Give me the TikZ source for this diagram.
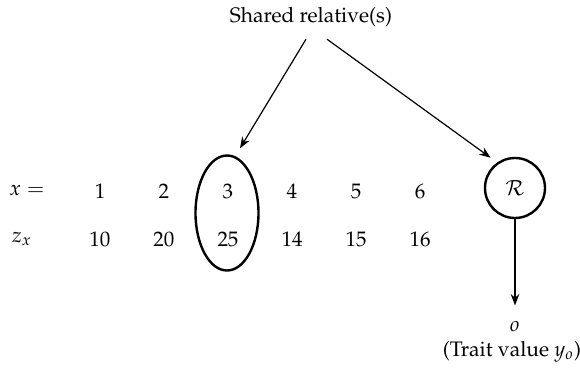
\documentclass[tikz,border=0pt]{standalone}
\usepackage[T1]{fontenc}
\usepackage{mathpazo}
\usepackage{tikz}
\usetikzlibrary{shapes.geometric,arrows.meta,positioning}

\begin{document}
\begin{tikzpicture}[
    x=0.5pt, y=-0.5pt,
    font=\fontsize{10.5}{12.6}\selectfont,
    >=Stealth,
    entry/.style={inner sep=2pt},
    ring/.style={draw, line width=1.2pt, inner sep=0pt},
    link/.style={->, semithick}
]
\useasboundingbox (0,0) rectangle (580,370);

% Top label
\node[entry] (shared) at (311,17) {Shared relative(s)};

% Row labels
\node[entry] (xlab) at (27,191) {$x =$};
\node[entry] (zlab) at (22,239) {$z_x$};

% Values of x
\node[entry] (x1) at (100,191) {1};
\node[entry] (x2) at (164,191) {2};
\node[entry] (x3) at (228,191) {3};
\node[entry] (x4) at (292,191) {4};
\node[entry] (x5) at (356,191) {5};
\node[entry] (x6) at (420,191) {6};

% Values of z_x
\node[entry] (z1) at (100,239) {10};
\node[entry] (z2) at (164,239) {20};
\node[entry] (z3) at (228,239) {25};
\node[entry] (z4) at (292,239) {14};
\node[entry] (z5) at (356,239) {15};
\node[entry] (z6) at (420,239) {16};

% Selected column and relative
\node[ring, ellipse, minimum width=31.5pt, minimum height=57.5pt] (sel) at (227,213) {};
\node[ring, circle, minimum size=30pt] (rel) at (515,188) {$\mathcal{R}$};

% Trait
\node[entry] (obs) at (515,327) {$o$};
\node[entry, below=0pt of obs, xshift=-1.5pt] (trait) {(Trait value $y_o$)};

% Connections
\draw[link] ([xshift=-2.5pt,yshift=-4pt]shared.south) -- ([xshift=6.5pt,yshift=3pt]sel.north);
\draw[link, shorten >=4pt] ([xshift=8pt,yshift=-4pt]shared.south) -- (rel.125);
\draw[link, shorten >=6pt] (rel) -- (obs);

\end{tikzpicture}
\end{document}
